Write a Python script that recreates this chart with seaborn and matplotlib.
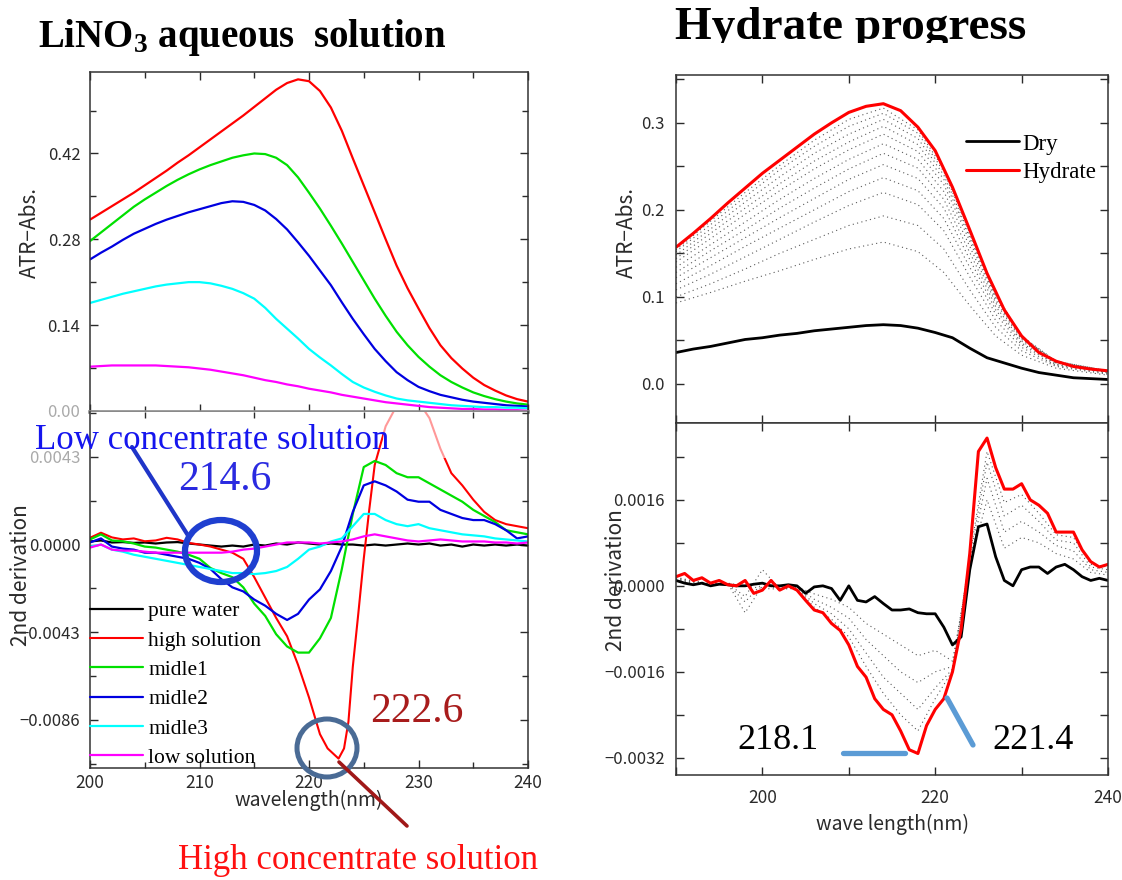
import numpy as np
import matplotlib
matplotlib.use("Agg")
import matplotlib.pyplot as plt
import seaborn as sns
from matplotlib.patches import Ellipse, Rectangle
from matplotlib.lines import Line2D
from matplotlib.ticker import MultipleLocator, FixedLocator


# ---------------- LiNO3 aqueous solution : ATR absorbance ----------------
wl_abs = list(range(200, 241))
abs_high = [0.312, 0.323, 0.334, 0.345, 0.356, 0.368, 0.380, 0.392, 0.405, 0.417, 0.430,
            0.443, 0.456, 0.469, 0.482, 0.496, 0.510, 0.524, 0.535, 0.541, 0.538,
            0.522, 0.495, 0.457, 0.412, 0.368, 0.324, 0.280, 0.237, 0.200, 0.167,
            0.135, 0.107, 0.086, 0.069, 0.054, 0.042, 0.033, 0.025, 0.019, 0.015]
abs_mid1 = [0.277, 0.291, 0.305, 0.319, 0.333, 0.345, 0.356, 0.367, 0.377, 0.386, 0.394,
            0.401, 0.407, 0.413, 0.417, 0.420, 0.419, 0.413, 0.401, 0.381, 0.356,
            0.330, 0.302, 0.273, 0.243, 0.213, 0.183, 0.155, 0.129, 0.107, 0.088,
            0.072, 0.058, 0.047, 0.038, 0.030, 0.024, 0.019, 0.015, 0.012, 0.010]
abs_mid2 = [0.247, 0.258, 0.268, 0.279, 0.289, 0.297, 0.305, 0.312, 0.318, 0.324, 0.329,
            0.334, 0.339, 0.342, 0.341, 0.336, 0.327, 0.313, 0.296, 0.275, 0.253,
            0.229, 0.205, 0.177, 0.150, 0.125, 0.101, 0.081, 0.063, 0.050, 0.039,
            0.032, 0.026, 0.022, 0.018, 0.015, 0.013, 0.011, 0.009, 0.008, 0.007]
abs_mid3 = [0.176, 0.181, 0.186, 0.191, 0.195, 0.199, 0.203, 0.206, 0.208, 0.210, 0.210,
            0.208, 0.204, 0.199, 0.192, 0.183, 0.168, 0.150, 0.134, 0.118, 0.101,
            0.087, 0.074, 0.060, 0.047, 0.038, 0.031, 0.025, 0.020, 0.017, 0.015,
            0.013, 0.011, 0.009, 0.008, 0.007, 0.006, 0.006, 0.005, 0.005, 0.004]
abs_low = [0.072, 0.073, 0.074, 0.074, 0.074, 0.074, 0.074, 0.073, 0.072, 0.071, 0.069,
           0.067, 0.064, 0.061, 0.058, 0.054, 0.050, 0.047, 0.043, 0.040, 0.036,
           0.033, 0.030, 0.026, 0.023, 0.020, 0.017, 0.014, 0.012, 0.010, 0.008,
           0.006, 0.005, 0.004, 0.003, 0.003, 0.002, 0.002, 0.001, 0.001, 0.000]

# ---------------- LiNO3 aqueous solution : 2nd derivative (units of 1e-3) ----------------
wl_d2 = list(range(200, 241))
d2_water = [0.15, 0.20, 0.10, 0.12, 0.08, 0.10, 0.05, 0.10, 0.12, 0.05, 0.00,
            -0.05, -0.10, -0.05, -0.10, 0.00, -0.05, 0.05, 0.00, 0.10, 0.05,
            0.00, 0.05, 0.00, 0.00, -0.05, 0.00, -0.05, 0.00, 0.05, 0.00,
            0.05, -0.05, 0.00, -0.10, 0.00, -0.05, 0.00, -0.05, 0.00, -0.05]
d2_mid1 = [0.25, 0.50, 0.20, 0.16, 0.05, -0.10, -0.15, -0.25, -0.35, -0.50, -0.70,
           -1.15, -1.40, -1.60, -2.10, -2.90, -3.50, -4.40, -5.00, -5.30, -5.30,
           -4.60, -3.60, -1.20, 1.50, 3.80, 4.10, 3.90, 3.50, 3.30, 3.30,
           3.00, 2.70, 2.40, 2.10, 1.70, 1.40, 1.10, 0.70, 0.60, 0.50]
d2_mid2 = [0.10, 0.30, -0.10, -0.20, -0.25, -0.40, -0.40, -0.50, -0.60, -0.70, -0.90,
           -1.20, -1.70, -2.10, -2.30, -2.70, -3.00, -3.40, -3.70, -3.40, -2.70,
           -2.20, -1.30, -0.10, 1.60, 2.90, 3.10, 2.90, 2.60, 2.20, 2.10,
           2.10, 1.70, 1.50, 1.30, 1.20, 1.20, 1.00, 0.70, 0.30, 0.40]
d2_mid3 = [-0.10, 0.00, -0.25, -0.35, -0.50, -0.60, -0.70, -0.80, -0.90, -1.00, -1.10,
           -1.20, -1.30, -1.40, -1.40, -1.45, -1.40, -1.30, -1.10, -0.70, -0.25,
           -0.10, 0.15, 0.30, 0.90, 1.50, 1.50, 1.20, 1.00, 0.90, 1.00,
           0.80, 0.70, 0.60, 0.50, 0.45, 0.40, 0.30, 0.25, 0.20, 0.15]
d2_low = [-0.15, 0.00, -0.25, -0.30, -0.30, -0.35, -0.40, -0.40, -0.40, -0.40, -0.40,
          -0.40, -0.40, -0.35, -0.25, -0.20, -0.10, 0.00, 0.10, 0.10, 0.10,
          0.05, 0.10, 0.15, 0.25, 0.40, 0.50, 0.40, 0.30, 0.20, 0.15,
          0.20, 0.25, 0.20, 0.15, 0.15, 0.15, 0.10, 0.10, 0.05, 0.10]
wl_d2_high = [200, 201, 202, 203, 204, 205, 206, 207, 208, 209, 210,
              211, 212, 213, 214, 215, 216, 217, 218, 219, 220, 221,
              221.7, 222.3, 222.7, 223.2, 223.6, 224, 224.5, 225, 225.5, 226,
              227, 228, 229, 230, 231, 232, 233, 234, 235, 236, 237, 238, 239, 240]
d2_high = [0.33, 0.58, 0.35, 0.25, 0.30, 0.16, 0.20, 0.33, 0.25, 0.08, 0.00,
           -0.10, -0.25, -0.40, -0.70, -1.60, -2.60, -3.60, -4.50, -5.90, -7.50, -9.30,
           -10.0, -10.3, -10.5, -10.0, -8.7, -6.0, -3.4, -0.7, 1.7, 3.9,
           5.8, 6.8, 7.3, 7.0, 6.2, 4.7, 3.5, 2.9, 2.2, 1.6, 1.2, 1.0, 0.9, 0.8]
d2_names = ["pure water", "high solution", "midle1", "midle2", "midle3", "low solution"]

# ---------------- Hydrate progress : ATR absorbance ----------------
wl_hyd = list(range(190, 241, 2))
abs_hydrate = [0.157, 0.173, 0.190, 0.208, 0.225, 0.242, 0.257, 0.272, 0.287, 0.300,
               0.312, 0.319, 0.322, 0.314, 0.295, 0.268, 0.226, 0.177, 0.127, 0.085,
               0.055, 0.036, 0.026, 0.020, 0.017, 0.015]
abs_dry = [0.036, 0.040, 0.043, 0.047, 0.051, 0.053, 0.056, 0.058, 0.061, 0.063,
           0.065, 0.067, 0.068, 0.067, 0.064, 0.059, 0.053, 0.041, 0.030, 0.024,
           0.018, 0.013, 0.010, 0.007, 0.006, 0.005]
wl_steps = [190, 194, 198, 202, 206, 210, 214, 218, 221, 224, 227, 230, 234, 240]
abs_steps = [
    [0.093, 0.105, 0.118, 0.130, 0.143, 0.155, 0.163, 0.152, 0.128, 0.090, 0.055, 0.033, 0.018, 0.010],
    [0.100, 0.115, 0.132, 0.150, 0.166, 0.182, 0.193, 0.182, 0.155, 0.108, 0.065, 0.038, 0.020, 0.011],
    [0.108, 0.126, 0.146, 0.166, 0.186, 0.205, 0.220, 0.206, 0.176, 0.123, 0.073, 0.042, 0.021, 0.012],
    [0.115, 0.136, 0.158, 0.179, 0.200, 0.221, 0.237, 0.222, 0.190, 0.134, 0.080, 0.045, 0.022, 0.013],
    [0.122, 0.145, 0.168, 0.191, 0.213, 0.235, 0.252, 0.236, 0.202, 0.143, 0.085, 0.047, 0.023, 0.013],
    [0.128, 0.153, 0.177, 0.202, 0.225, 0.247, 0.265, 0.248, 0.212, 0.151, 0.089, 0.049, 0.024, 0.014],
    [0.134, 0.160, 0.186, 0.212, 0.236, 0.258, 0.276, 0.258, 0.221, 0.158, 0.093, 0.051, 0.024, 0.014],
    [0.140, 0.167, 0.195, 0.222, 0.247, 0.269, 0.287, 0.267, 0.229, 0.164, 0.096, 0.052, 0.025, 0.014],
    [0.144, 0.173, 0.202, 0.230, 0.256, 0.278, 0.296, 0.275, 0.235, 0.168, 0.099, 0.053, 0.025, 0.015],
    [0.148, 0.178, 0.209, 0.238, 0.265, 0.287, 0.304, 0.282, 0.240, 0.171, 0.101, 0.054, 0.025, 0.015],
    [0.152, 0.183, 0.215, 0.246, 0.273, 0.296, 0.311, 0.288, 0.244, 0.174, 0.102, 0.054, 0.026, 0.015],
    [0.154, 0.187, 0.220, 0.251, 0.280, 0.304, 0.317, 0.292, 0.247, 0.176, 0.103, 0.055, 0.026, 0.015],
]

# ---------------- Hydrate progress : 2nd derivative (units of 1e-3) ----------------
wl_d2h = list(range(190, 241))
d2h_hydrate = [0.17, 0.23, 0.10, 0.15, 0.05, 0.10, 0.02, 0.00, 0.10, -0.14,
               -0.08, 0.10, -0.08, 0.00, -0.08, -0.27, -0.45, -0.50, -0.70, -0.83,
               -1.10, -1.50, -1.70, -2.10, -2.30, -2.40, -2.70, -3.05, -3.12, -2.60,
               -2.30, -2.10, -1.60, -0.80, 0.60, 2.50, 2.75, 2.20, 1.80, 1.80,
               1.90, 1.60, 1.50, 1.35, 1.00, 1.00, 1.00, 0.67, 0.45, 0.35, 0.40]
d2h_dry = [0.10, 0.05, 0.02, 0.05, 0.00, 0.03, 0.02, 0.00, 0.00, 0.03,
           0.05, 0.00, 0.00, 0.02, 0.00, -0.14, -0.02, 0.00, -0.05, -0.27,
           0.00, -0.27, -0.30, -0.20, -0.33, -0.45, -0.45, -0.43, -0.50, -0.52,
           -0.52, -0.77, -1.10, -0.95, 0.30, 1.10, 1.15, 0.54, 0.10, 0.00,
           0.30, 0.35, 0.35, 0.23, 0.35, 0.40, 0.30, 0.17, 0.10, 0.14, 0.10]
wl_d2_steps = list(range(190, 241, 2))
d2h_steps = [
    [0.12, 0.05, 0.02, 0.03, -0.30, 0.05, -0.02, -0.02, -0.15, -0.25, -0.40, -0.70, -0.90,
     -1.10, -1.30, -1.20, -1.40, 0.40, 1.60, 0.70, 0.90, 0.80, 0.60, 0.50, 0.25, 0.20],
    [0.14, 0.06, 0.03, 0.04, -0.50, 0.00, -0.04, -0.03, -0.25, -0.40, -0.60, -1.00, -1.30,
     -1.60, -1.80, -1.60, -1.50, 0.45, 2.00, 1.00, 1.20, 1.00, 0.75, 0.65, 0.30, 0.25],
    [0.15, 0.08, 0.04, 0.04, -0.20, 0.30, -0.05, -0.04, -0.33, -0.52, -0.80, -1.25, -1.70,
     -2.00, -2.30, -1.90, -1.55, 0.50, 2.30, 1.30, 1.50, 1.20, 0.85, 0.80, 0.35, 0.30],
    [0.16, 0.09, 0.04, 0.05, 0.00, -0.05, -0.06, -0.05, -0.40, -0.62, -0.95, -1.50, -2.00,
     -2.40, -2.70, -2.10, -1.58, 0.55, 2.50, 1.55, 1.70, 1.35, 0.95, 0.90, 0.40, 0.35],
]

# ---------------------------------------------------------------------------
sns.set_style("ticks")
plt.rcParams["font.family"] = ["Noto Sans CJK JP", "DejaVu Sans"]
plt.rcParams["text.color"] = "black"
plt.rcParams["mathtext.fontset"] = "custom"
plt.rcParams["mathtext.rm"] = "Liberation Serif:bold"
plt.rcParams["mathtext.it"] = "Liberation Serif:bold"
plt.rcParams["mathtext.default"] = "rm"

W, H = 1122, 880
fig = plt.figure(figsize=(W / 100, H / 100), dpi=100)
SERIF = "Liberation Serif"
px = fig.dpi_scale_trans


def px_axes(x0, y0, x1, y1):
    return fig.add_axes([x0 / W, 1 - y1 / H, (x1 - x0) / W, (y1 - y0) / H])


def style(ax, xpad, ypad):
    for s in ax.spines.values():
        s.set_color("#333333")
        s.set_linewidth(1.1)
    ax.tick_params(which="both", direction="in", top=True, right=True,
                   colors="#2a2a2a", labelsize=12)
    ax.tick_params(axis="x", which="both", pad=xpad, labelsize=12.5)
    ax.tick_params(axis="y", which="both", pad=ypad)
    ax.tick_params(which="major", length=6, width=1)
    ax.tick_params(which="minor", length=4, width=1)


def ftext(x, y, s, **kw):
    return fig.text(x / W, 1 - y / H, s, **kw)


milli = 1e-3
lin_colors = ["#000000", "#ff0000", "#00e000", "#0000e0", "#00ffff", "#ff00ff"]
dot_style = dict(color="#5a5a5a", lw=0.8, linestyle=(0, (1, 3)))

# ---- left top ----
ax1 = px_axes(90, 72, 528, 412)
for y, c in zip([abs_high, abs_mid1, abs_mid2, abs_mid3, abs_low], lin_colors[1:]):
    sns.lineplot(x=wl_abs, y=y, color=c, lw=1.6, ax=ax1)
ax1.set_xlim(200, 240)
ax1.set_ylim(-0.002, 0.553)
ax1.xaxis.set_major_locator(MultipleLocator(10))
ax1.xaxis.set_minor_locator(MultipleLocator(5))
ax1.set_yticks([0, 0.14, 0.28, 0.42])
ax1.set_yticklabels(["0.00", "0.14", "0.28", "0.42"])
ax1.yaxis.set_minor_locator(MultipleLocator(0.07))
style(ax1, 4, 7)
ax1.tick_params(labelbottom=False)
ax1.spines["bottom"].set_color("#8a8a8a")
ax1.spines["bottom"].set_linewidth(2.6)
ax1.get_yticklabels()[0].set_color("#aaaaaa")
ax1.set_xlabel("")
ax1.set_ylabel("")

# ---- left bottom ----
ax2 = px_axes(90, 412, 528, 768)
sns.lineplot(x=wl_d2, y=np.array(d2_water) * milli, color=lin_colors[0], lw=1.6, ax=ax2, label=d2_names[0])
sns.lineplot(x=wl_d2_high, y=np.array(d2_high) * milli, color=lin_colors[1], lw=1.5, ax=ax2, label=d2_names[1])
for y, c, n in zip([d2_mid1, d2_mid2, d2_mid3, d2_low], lin_colors[2:], d2_names[2:]):
    sns.lineplot(x=wl_d2, y=np.array(y) * milli, color=c, lw=1.6, ax=ax2, label=n)
ax2.set_xlim(200, 240)
ax2.set_ylim(-0.01096, 0.0065)
ax2.xaxis.set_major_locator(MultipleLocator(10))
ax2.xaxis.set_minor_locator(MultipleLocator(5))
ax2.set_yticks([-0.0086, -0.0043, 0, 0.0043])
ax2.set_yticklabels(["\u22120.0086", "\u22120.0043", "0.0000", "0.0043"])
ax2.yaxis.set_minor_locator(FixedLocator([-0.01075, -0.00645, -0.00215, 0.00215, 0.00645]))
style(ax2, 4, 7)
ax2.tick_params(top=False)
ax2.spines["top"].set_visible(False)
ax2.get_yticklabels()[3].set_color("#aaaaaa")
ax2.set_xlabel("")
ax2.set_ylabel("")
ax2.legend(loc="lower left", bbox_to_anchor=(0, 0.0), frameon=False, borderaxespad=0,
           borderpad=0, handlelength=2.45, handletextpad=0.25, labelspacing=0.43,
           prop={"family": SERIF, "size": 15.5})

# ---- right top ----
ax3 = px_axes(676, 75, 1108, 423)
for y in abs_steps:
    sns.lineplot(x=wl_steps, y=y, ax=ax3, **dot_style)
sns.lineplot(x=wl_hyd, y=abs_dry, color="black", lw=2, ax=ax3, label="Dry")
sns.lineplot(x=wl_hyd, y=abs_hydrate, color="#ff0000", lw=2.2, ax=ax3, label="Hydrate")
ax3.set_xlim(190, 240)
ax3.set_ylim(-0.045, 0.355)
ax3.xaxis.set_major_locator(MultipleLocator(20))
ax3.xaxis.set_minor_locator(MultipleLocator(10))
ax3.set_yticks([0, 0.1, 0.2, 0.3])
ax3.set_yticklabels(["0.0", "0.1", "0.2", "0.3"])
ax3.yaxis.set_minor_locator(MultipleLocator(0.05))
style(ax3, 10, 8)
ax3.tick_params(which="minor", length=6)
ax3.tick_params(labelbottom=False)
ax3.set_xlabel("")
ax3.set_ylabel("")
ax3.legend(loc="upper left", bbox_to_anchor=(0.672, 0.832), frameon=False, borderaxespad=0,
           borderpad=0, handlelength=2.3, handletextpad=0.15, labelspacing=0.32,
           prop={"family": SERIF, "size": 16.5})

# ---- right bottom ----
ax4 = px_axes(676, 423, 1108, 775)
for y in d2h_steps:
    sns.lineplot(x=wl_d2_steps, y=np.array(y) * milli, ax=ax4, **dot_style)
sns.lineplot(x=wl_d2h, y=np.array(d2h_dry) * milli, color="black", lw=2, ax=ax4)
sns.lineplot(x=wl_d2h, y=np.array(d2h_hydrate) * milli, color="#ff0000", lw=2.2, ax=ax4)
ax4.set_xlim(190, 240)
ax4.set_ylim(-0.00352, 0.00303)
ax4.xaxis.set_major_locator(MultipleLocator(20))
ax4.xaxis.set_minor_locator(MultipleLocator(10))
ax4.set_yticks([-0.0032, -0.0016, 0, 0.0016])
ax4.set_yticklabels(["\u22120.0032", "\u22120.0016", "0.0000", "0.0016"])
ax4.yaxis.set_minor_locator(MultipleLocator(0.0008))
style(ax4, 10, 8)
ax4.tick_params(which="minor", length=6)
ax4.set_xlabel("")
ax4.set_ylabel("")

# ---- axis labels ----
lab = dict(color="#2a2a2a", ha="center", va="center")
ftext(30, 232, "ATR\u2212Abs.", rotation=90, size=15, **lab)
ftext(21, 575, "2nd derivation", rotation=90, size=15, **lab)
ftext(309, 800, "wavelength(nm)", size=14, **lab)
ftext(627, 232, "ATR\u2212Abs.", rotation=90, size=15, **lab)
ftext(616, 580, "2nd derivation", rotation=90, size=15, **lab)
ftext(892, 824, "wave length(nm)", size=14, **lab)

# ---- titles ----
ftext(38, 47, r"LiNO$_3$ aqueous  solution", family=SERIF, weight="bold", size=28,
      va="baseline", color="black")
ftext(675, 39, "Hydrate progress", family=SERIF, weight="bold", size=34, va="baseline",
      color="black", zorder=3)
fig.add_artist(Rectangle((6.0, (H - 70) / 100), 5.2, 0.27, transform=px, facecolor="white",
                         edgecolor="none", zorder=4))

# ---- annotations, left ----
fig.add_artist(Rectangle((3.83, (H - 458) / 100), 0.64, 0.46, transform=px, facecolor="white",
                         edgecolor="none", alpha=0.6, zorder=3))
ftext(35, 440, "Low concentrate solution", family=SERIF, size=25, color="#1515ee", va="center", zorder=6)
ftext(178, 480, "214.6", family=SERIF, size=30, color="#2a2ae0", va="center", zorder=6)
fig.add_artist(Line2D([1.32, 1.89], [(H - 447) / 100, (H - 537) / 100], transform=px,
                      color="#1f35c8", lw=3, zorder=6))
fig.add_artist(Ellipse((2.21, (H - 551) / 100), 0.72, 0.62, transform=px, fill=False,
                       edgecolor="#1f3fd0", lw=4.5, zorder=6))
ftext(370, 712, "222.6", family=SERIF, size=30, color="#a81c1c", va="center", zorder=6)
fig.add_artist(Ellipse((3.27, (H - 748) / 100), 0.60, 0.58, transform=px, fill=False,
                       edgecolor="#4a6b95", lw=3.6, zorder=6))
fig.add_artist(Line2D([3.39, 4.07], [(H - 762) / 100, (H - 826) / 100], transform=px,
                      color="#a01818", lw=2.6, zorder=6))
ftext(178, 860, "High concentrate solution", family=SERIF, size=25, color="#ff1010", va="center", zorder=6)

# ---- annotations, right ----
ftext(737, 740, "218.1", family=SERIF, size=26, color="black", va="center", zorder=6)
ftext(992, 740, "221.4", family=SERIF, size=26, color="black", va="center", zorder=6)
fig.add_artist(Line2D([8.43, 9.05], [(H - 753) / 100, (H - 753) / 100], transform=px,
                      color="#5b9bd5", lw=3.8, zorder=6))
fig.add_artist(Line2D([9.47, 9.73], [(H - 698) / 100, (H - 745) / 100], transform=px,
                      color="#5b9bd5", lw=3.8, zorder=6))

fig.savefig("out.png", dpi=100)
